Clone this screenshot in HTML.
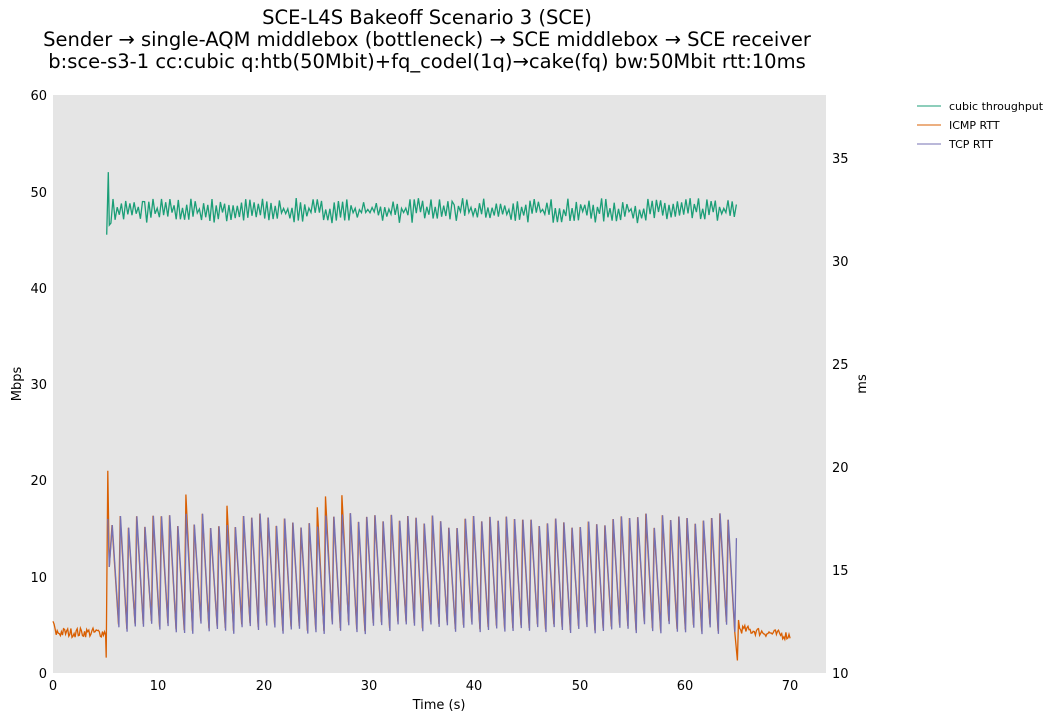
<!DOCTYPE html><html><head><style>body{margin:0;background:#fff;font-family:"DejaVu Sans","Liberation Sans",sans-serif}</style></head><body>
<svg id="s" width="1063" height="721" xmlns="http://www.w3.org/2000/svg" font-family="DejaVu Sans, Liberation Sans, sans-serif">
<rect x="53" y="95" width="773" height="578" fill="#e5e5e5"/>
<g font-size="19.5" text-anchor="middle" fill="#000">
<text x="427" y="24">SCE-L4S Bakeoff Scenario 3 (SCE)</text>
<text x="427" y="46">Sender → single-AQM middlebox (bottleneck) → SCE middlebox → SCE receiver</text>
<text x="427" y="68">b:sce-s3-1 cc:cubic q:htb(50Mbit)+fq_codel(1q)→cake(fq) bw:50Mbit rtt:10ms</text>
</g>
<g font-size="13" fill="#000">
<g text-anchor="end"><text x="47" y="678">0</text><text x="47" y="582">10</text><text x="47" y="485">20</text><text x="47" y="389">30</text><text x="47" y="293">40</text><text x="47" y="197">50</text><text x="47" y="100">60</text></g>
<g text-anchor="middle"><text x="53" y="690">0</text><text x="158" y="690">10</text><text x="264" y="690">20</text><text x="369" y="690">30</text><text x="474" y="690">40</text><text x="580" y="690">50</text><text x="685" y="690">60</text><text x="790" y="690">70</text>
<text x="439" y="709">Time (s)</text></g>
<text transform="translate(21,384) rotate(-90)" text-anchor="middle">Mbps</text>
<text transform="translate(866,384) rotate(-90)" text-anchor="middle">ms</text>
</g>
<g font-size="11">
<line x1="917" y1="106" x2="941" y2="106" stroke="#1b9e77"/><text x="949" y="110">cubic throughput</text>
<line x1="917" y1="125" x2="941" y2="125" stroke="#d95f02"/><text x="949" y="129">ICMP RTT</text>
<line x1="917" y1="144" x2="941" y2="144" stroke="#7570b3"/><text x="949" y="148">TCP RTT</text>
</g>
</svg>
<script>
var ns="http://www.w3.org/2000/svg",s=document.getElementById('s');
for(var v=10;v<=35;v+=5){var y=673-(v-10)*20.6+5;var t=document.createElementNS(ns,'text');t.setAttribute('x',832);t.setAttribute('y',y);t.setAttribute('font-size',13);t.textContent=v;s.appendChild(t);}
var seed=7;function r(){seed=(seed*16807)%2147483647;return seed/2147483647;}
function X(t){return 53+t*10.53}function Y(v){return 673-v*9.633}
function pl(pts,c){var p=document.createElementNS(ns,'polyline');p.setAttribute('points',pts.map(function(a){return X(a[0]).toFixed(1)+','+Y(a[1]).toFixed(1)}).join(' '));p.setAttribute('fill','none');p.setAttribute('stroke',c);p.setAttribute('stroke-width',1.3);s.appendChild(p);}
var th=[[5.1,45.5],[5.25,52],[5.35,46.5]];for(var t=5.5;t<=65;t+=0.2){var k=Math.round(t/0.2)%2;th.push([t,(k?48.7:47.3)+(r()-0.5)*1.2]);}pl(th,'#1b9e77');
var ic=[];for(var t=0;t<5;t+=0.1)ic.push([t,4.2+(r()-0.5)*1+(t<0.2?0.8:0)]);
ic.push([5.05,1.6],[5.2,21],[5.35,11]);
var tc=[[5.2,16],[5.35,11]];
var per=0.78;
for(var t=5.6;t<64.8;t+=per){var hi=15+r()*1.6,lo=4.3+r()*1.2;
 ic.push([t,hi+(r()<0.1?2:0)],[t+per*0.8,lo]);
 tc.push([t+0.03,hi],[t+per*0.8+0.03,lo-0.3]);}
ic.push([65,1.3],[65.1,5.5]);tc.push([64.9,14]);
for(var t=65.2;t<=70;t+=0.1)ic.push([t,4.6-(t-65)*0.15+(r()-0.5)*0.9]);
pl(ic,'#d95f02');pl(tc,'#7570b3');
</script>
</body></html>
